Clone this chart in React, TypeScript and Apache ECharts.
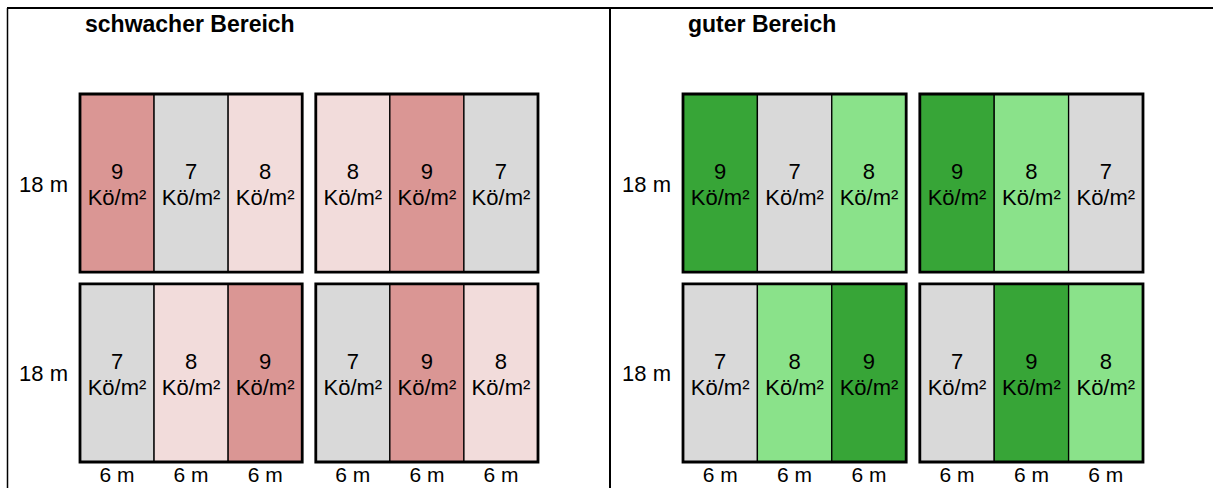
import React, { useEffect, useRef } from "react";
import * as echarts from "echarts";

// ---- data ----
const panelTitles = ["schwacher Bereich", "guter Bereich"];
// plant densities (Kö/m²) per row of plots, 6 plots per row (two blocks of 3)
const weakRows = [
  [9, 7, 8, 8, 9, 7],
  [7, 8, 9, 7, 9, 8],
];
const goodRows = [
  [9, 7, 8, 9, 8, 7],
  [7, 8, 9, 7, 9, 8],
];
const unitLabel = "Kö/m²";
const heightLabels = ["18 m", "18 m"];
const widthLabels = ["6 m", "6 m", "6 m", "6 m", "6 m", "6 m"];
const plotWidthM = 6;
const plotHeightM = 18;

// ---- styles ----
const weakColors: Record<number, string> = { 9: "#DA9694", 8: "#F2DCDB", 7: "#D9D9D9" };
const goodColors: Record<number, string> = { 9: "#37A537", 8: "#8AE28A", 7: "#D9D9D9" };
const GAP_X = 1.1;
const GAP_Y = 1.2;
const X_MAX = 6 * plotWidthM + GAP_X;
const Y_MAX = 2 * plotHeightM + GAP_Y;
const FONT = "'Liberation Sans', Arial, sans-serif";

function xStart(col: number) {
  return col * plotWidthM + (col >= 3 ? GAP_X : 0);
}
function yStart(row: number) {
  return row * (plotHeightM + GAP_Y);
}

function panelSeries(idx: number, rows: number[][], colors: Record<number, string>) {
  const cellData: number[][] = [];
  rows.forEach((r, ri) => r.forEach((v, ci) => cellData.push([ci, ri, v])));
  return [
    {
      type: "custom",
      xAxisIndex: idx,
      yAxisIndex: idx,
      data: cellData,
      z: 2,
      renderItem: (params: any, api: any) => {
        const col = api.value(0);
        const row = api.value(1);
        const v = api.value(2);
        const x0 = xStart(col);
        const y0 = yStart(row);
        const p0 = api.coord([x0, y0]);
        const p1 = api.coord([x0 + plotWidthM, y0 + plotHeightM]);
        const cx = (p0[0] + p1[0]) / 2;
        const cy = (p0[1] + p1[1]) / 2;
        return {
          type: "group",
          children: [
            {
              type: "rect",
              shape: { x: p0[0], y: p0[1], width: p1[0] - p0[0], height: p1[1] - p0[1] },
              style: { fill: colors[v], stroke: "#000", lineWidth: 1.3 },
            },
            {
              type: "text",
              style: {
                text: v + "\n" + unitLabel,
                x: cx,
                y: cy + 1.5,
                align: "center",
                verticalAlign: "middle",
                fontSize: 22,
                lineHeight: 26,
                fontFamily: FONT,
                fill: "#000",
              },
            },
          ],
        };
      },
    },
    {
      type: "custom",
      xAxisIndex: idx,
      yAxisIndex: idx,
      data: [
        [0, 0],
        [1, 0],
        [0, 1],
        [1, 1],
      ],
      z: 3,
      renderItem: (params: any, api: any) => {
        const b = api.value(0);
        const row = api.value(1);
        const x0 = xStart(b * 3);
        const y0 = yStart(row);
        const p0 = api.coord([x0, y0]);
        const p1 = api.coord([x0 + 3 * plotWidthM, y0 + plotHeightM]);
        return {
          type: "rect",
          shape: { x: p0[0], y: p0[1], width: p1[0] - p0[0], height: p1[1] - p0[1] },
          style: { fill: "none", stroke: "#000", lineWidth: 2.8 },
        };
      },
    },
    {
      type: "custom",
      xAxisIndex: idx,
      yAxisIndex: idx,
      data: heightLabels.map((_, i) => [i]),
      z: 3,
      renderItem: (params: any, api: any) => {
        const row = api.value(0);
        const p = api.coord([0, yStart(row) + plotHeightM / 2]);
        return {
          type: "text",
          style: {
            text: heightLabels[params.dataIndex],
            x: p[0] - 12,
            y: p[1] + 1,
            align: "right",
            verticalAlign: "middle",
            fontSize: 22,
            fontFamily: FONT,
            fill: "#000",
          },
        };
      },
    },
    {
      type: "custom",
      xAxisIndex: idx,
      yAxisIndex: idx,
      data: widthLabels.map((_, i) => [i]),
      z: 3,
      renderItem: (params: any, api: any) => {
        const col = api.value(0);
        const p = api.coord([xStart(col) + plotWidthM / 2, Y_MAX]);
        return {
          type: "text",
          style: {
            text: widthLabels[params.dataIndex],
            x: p[0],
            y: p[1] + 12.5,
            align: "center",
            verticalAlign: "middle",
            fontSize: 21,
            fontFamily: FONT,
            fill: "#000",
          },
        };
      },
    },
  ];
}

export default function App() {
  const ref = useRef<HTMLDivElement>(null);
  useEffect(() => {
    if (!ref.current) return;
    const chart = echarts.init(ref.current, null, { renderer: "svg" });
    const grids = [
      { left: 80, top: 94, width: 458, height: 368 },
      { left: 683, top: 94, width: 460, height: 368 },
    ];
    chart.setOption({
      animation: false,
      backgroundColor: "#fff",
      title: [
        {
          text: panelTitles[0],
          left: 85,
          top: 12,
          padding: 0,
          textStyle: { fontSize: 23, fontWeight: "bold", fontFamily: FONT, color: "#000" },
        },
        {
          text: panelTitles[1],
          left: 688,
          top: 12,
          padding: 0,
          textStyle: { fontSize: 23, fontWeight: "bold", fontFamily: FONT, color: "#000" },
        },
      ],
      grid: grids,
      xAxis: grids.map((_, i) => ({ gridIndex: i, type: "value", min: 0, max: X_MAX, show: false })),
      yAxis: grids.map((_, i) => ({
        gridIndex: i,
        type: "value",
        min: 0,
        max: Y_MAX,
        inverse: true,
        show: false,
      })),
      graphic: [
        { type: "line", shape: { x1: 7, y1: 8, x2: 1213, y2: 8 }, style: { stroke: "#000", lineWidth: 2 } },
        { type: "line", shape: { x1: 7.5, y1: 8, x2: 7.5, y2: 488 }, style: { stroke: "#000", lineWidth: 1.5 } },
        { type: "line", shape: { x1: 610, y1: 8, x2: 610, y2: 488 }, style: { stroke: "#000", lineWidth: 2 } },
      ],
      series: [...panelSeries(0, weakRows, weakColors), ...panelSeries(1, goodRows, goodColors)],
    });
    return () => chart.dispose();
  }, []);
  return (
    <div
      ref={ref}
      style={{ position: "fixed", left: 0, top: 0, width: 1213, height: 488, background: "#fff" }}
    />
  );
}
